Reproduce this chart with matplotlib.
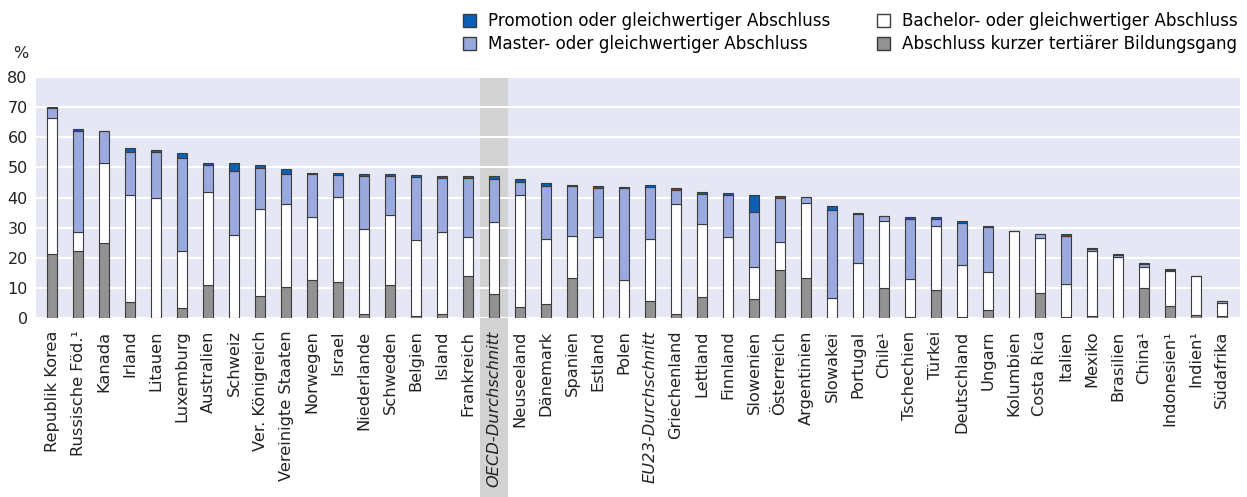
import matplotlib
matplotlib.use("Agg")
import matplotlib.pyplot as plt
import matplotlib.transforms as mtransforms
from matplotlib.patches import Patch, Rectangle
import numpy as np

countries = [
    "Republik Korea", "Russische Föd.¹", "Kanada", "Irland", "Litauen", "Luxemburg",
    "Australien", "Schweiz", "Ver. Königreich", "Vereinigte Staaten", "Norwegen",
    "Israel", "Niederlande", "Schweden", "Belgien", "Island", "Frankreich",
    "OECD-Durchschnitt", "Neuseeland", "Dänemark", "Spanien", "Estland", "Polen",
    "EU23-Durchschnitt", "Griechenland", "Lettland", "Finnland", "Slowenien",
    "Österreich", "Argentinien", "Slowakei", "Portugal", "Chile¹", "Tschechien",
    "Türkei", "Deutschland", "Ungarn", "Kolumbien", "Costa Rica", "Italien",
    "Mexiko", "Brasilien", "China¹", "Indonesien¹", "Indien¹", "Südafrika",
]

# segment heights in %
short_cycle = [21.1, 22.4, 25.0, 5.3, 0.0, 3.3, 10.9, 0.0, 7.2, 10.4, 12.7, 12.0, 1.2,
               10.9, 0.6, 1.2, 14.1, 7.9, 3.7, 4.6, 13.2, 0.0, 0.0, 5.6, 1.4, 7.0, 0.0,
               6.4, 15.8, 13.4, 0.0, 0.0, 10.1, 0.3, 9.2, 0.3, 2.8, 0.0, 8.3, 0.3, 0.5,
               0.0, 9.9, 3.9, 1.1, 0.8]
bachelor = [45.3, 6.2, 26.3, 35.6, 39.8, 18.8, 30.9, 27.6, 29.1, 27.6, 20.9, 28.1, 28.2,
            23.2, 25.3, 27.2, 12.7, 23.9, 37.0, 21.7, 14.0, 26.8, 12.7, 20.5, 36.4, 24.1,
            26.8, 10.6, 9.5, 24.7, 6.8, 18.2, 22.1, 12.5, 21.4, 17.3, 12.6, 29.0, 18.4,
            11.1, 21.6, 20.4, 7.0, 11.7, 12.8, 4.3]
master = [3.4, 33.6, 10.8, 14.1, 15.4, 31.0, 9.1, 21.3, 13.6, 9.8, 14.1, 7.5, 17.8,
          12.9, 20.9, 18.0, 19.6, 14.3, 4.5, 17.5, 16.6, 16.3, 30.3, 17.3, 4.6, 10.0,
          14.1, 18.3, 14.7, 2.0, 29.1, 16.4, 1.5, 20.1, 2.2, 13.8, 14.7, 0.0, 1.2,
          15.9, 0.7, 0.4, 1.0, 0.3, 0.0, 0.5]
doctorate = [0.2, 0.6, 0.1, 1.4, 0.7, 1.8, 0.7, 2.4, 1.0, 1.8, 0.5, 0.5, 0.6, 0.7, 0.8,
             0.7, 0.6, 0.9, 0.8, 1.1, 0.5, 0.6, 0.4, 0.9, 0.6, 0.6, 0.5, 5.5, 0.6, 0.0,
             1.2, 0.4, 0.2, 0.5, 0.6, 0.8, 0.6, 0.0, 0.0, 0.6, 0.5, 0.6, 0.2, 0.3, 0.0,
             0.0]

highlight = "OECD-Durchschnitt"
italic_labels = ["OECD-Durchschnitt", "EU23-Durchschnitt"]

c_doc = "#0b5fb5"
c_master = "#9aaade"
c_bach = "#ffffff"
c_short = "#929292"
edge = "#3c3c3c"
bg = "#e6e7f4"

plt.rcParams["font.family"] = ["DejaVu Sans"]

fig = plt.figure(figsize=(12.47, 4.97), dpi=100)
ax = fig.add_axes([36 / 1247, 1 - 318 / 497, (1240 - 36) / 1247, (318 - 77) / 497])
ax.set_facecolor(bg)

x = np.arange(len(countries))
w = 0.4
s = np.array(short_cycle)
b = np.array(bachelor)
m = np.array(master)
d = np.array(doctorate)

kw = dict(width=w, edgecolor=edge, linewidth=0.8, zorder=3)
ax.bar(x, s, color=c_short, **kw)
ax.bar(x, b, bottom=s, color=c_bach, **kw)
ax.bar(x, m, bottom=s + b, color=c_master, **kw)
ax.bar(x, d, bottom=s + b + m, color=c_doc, **kw)

# grey band behind the OECD average, running down through the labels
hi = countries.index(highlight)
trans = mtransforms.blended_transform_factory(ax.transData, ax.transAxes)
ax.add_patch(Rectangle((hi - 0.54, -0.75), 1.08, 1.75, transform=trans,
                       facecolor="#d2d2d2", edgecolor="none", clip_on=False, zorder=0.2))

ax.set_xlim(-0.62, len(countries) - 1 + 0.7)
ax.set_ylim(0, 80)
ax.set_yticks(range(0, 81, 10))
ax.yaxis.grid(True, color="white", linewidth=1.5, zorder=0.5)
ax.set_axisbelow(True)
for sp in ax.spines.values():
    sp.set_visible(False)
ax.tick_params(axis="both", length=0, colors="#222222")
ax.tick_params(axis="y", labelsize=11.5, pad=6)
ax.tick_params(axis="x", pad=9)
ax.set_xticks(x)
ax.set_xticklabels(countries, rotation=90, fontsize=11.7)
for lab in ax.get_xticklabels():
    if lab.get_text() in italic_labels:
        lab.set_style("italic")

fig.text(21 / 1247, 1 - 53 / 497, "%", fontsize=11.5, color="#222222",
         ha="center", va="center")

handles = [
    Patch(facecolor=c_doc, edgecolor=edge, label="Promotion oder gleichwertiger Abschluss"),
    Patch(facecolor=c_master, edgecolor=edge, label="Master- oder gleichwertiger Abschluss"),
    Patch(facecolor=c_bach, edgecolor=edge, label="Bachelor- oder gleichwertiger Abschluss"),
    Patch(facecolor=c_short, edgecolor=edge, label="Abschluss kurzer tertiärer Bildungsgang"),
]
fig.legend(handles=handles, ncol=2, loc="upper right",
           bbox_to_anchor=(1253 / 1247, 1 + 3 / 497), frameon=False,
           prop={"size": 12.1},
           handlelength=0.8, handleheight=0.8, handletextpad=0.7,
           columnspacing=2.8, labelspacing=0.3)

fig.savefig("out.png", dpi=100)
